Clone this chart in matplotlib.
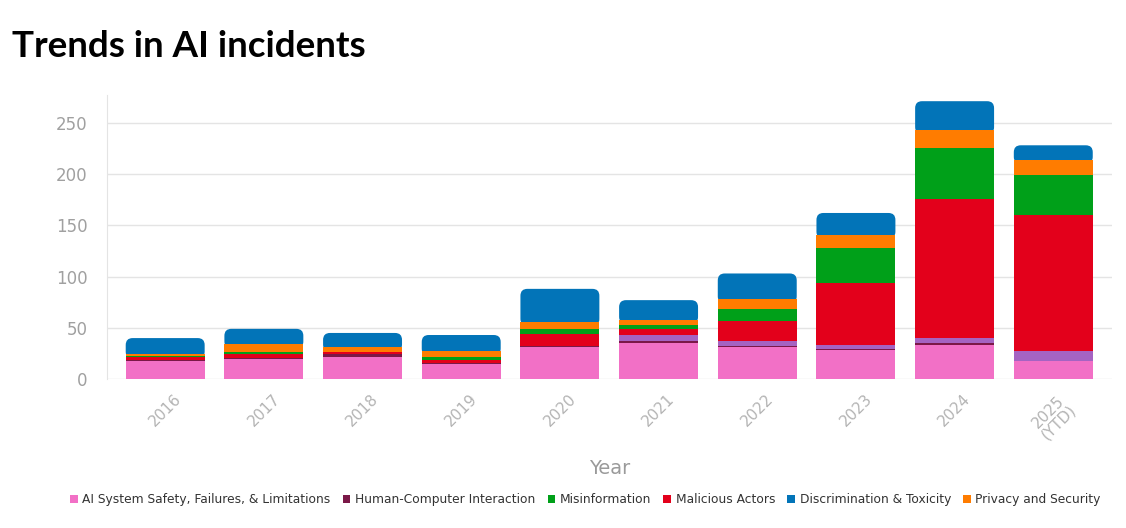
import matplotlib
matplotlib.use("Agg")
import matplotlib.pyplot as plt
from matplotlib.patches import FancyBboxPatch, Patch
from matplotlib import font_manager
import numpy as np

years = ["2016", "2017", "2018", "2019", "2020", "2021", "2022", "2023", "2024", "2025\n(YTD)"]

safety = [18, 20, 22, 15, 31, 35, 31, 28, 33, 18]
hci = [1, 1, 2, 1, 1, 2, 1, 1, 2, 0]
socio = [0, 0, 0, 0, 0, 6, 5, 4, 5, 9]
malicious = [3, 3, 2, 3, 12, 6, 20, 61, 136, 133]
misinfo = [1, 2, 0, 3, 5, 4, 11, 34, 49, 39]
privacy = [1, 8, 5, 5, 7, 5, 10, 13, 18, 15]
discrim = [16, 15, 14, 16, 32, 19, 25, 21, 28, 14]

series = [
    ("AI System Safety, Failures, & Limitations", safety, "#f270c6"),
    ("Human-Computer Interaction", hci, "#7b1848"),
    (None, socio, "#a563c2"),
    ("Malicious Actors", malicious, "#e3001b"),
    ("Misinformation", misinfo, "#00a019"),
    ("Privacy and Security", privacy, "#ff7c00"),
    ("Discrimination & Toxicity", discrim, "#0274b8"),
]
legend_order = [
    "AI System Safety, Failures, & Limitations",
    "Human-Computer Interaction",
    "Misinformation",
    "Malicious Actors",
    "Discrimination & Toxicity",
    "Privacy and Security",
]

available = {f.name for f in font_manager.fontManager.ttflist}
narrow = "Liberation Sans Narrow" if "Liberation Sans Narrow" in available else None

fig = plt.figure(figsize=(11.26, 5.28), dpi=100)
ax = fig.add_axes([0.095, 0.282, 0.893, 0.538])

x = np.arange(len(years))
w = 0.8
bottom = np.zeros(len(years))
colors = {}
for i, (name, vals, col) in enumerate(series):
    vals = np.array(vals, dtype=float)
    if name is not None:
        colors[name] = col
    if i == len(series) - 1:
        bars = ax.bar(x, vals, w, bottom=bottom, color=col, zorder=2, linewidth=0)
        for b in bars:
            b.set_visible(False)
            bx, by = b.get_x(), b.get_y()
            bw, bh = b.get_width(), b.get_height()
            p = FancyBboxPatch((bx, by - 4), bw, bh + 4,
                               boxstyle="round,pad=0,rounding_size=0.07",
                               mutation_aspect=96, facecolor=col,
                               edgecolor="none", zorder=1.5)
            ax.add_patch(p)
    else:
        ax.bar(x, vals, w, bottom=bottom, color=col, zorder=2, linewidth=0)
    bottom += vals

ax.set_xlim(-0.59, 9.6)
ax.set_ylim(0, 277)
ax.set_yticks([0, 50, 100, 150, 200, 250])
ax.grid(axis="y", color="#e4e4e4", linewidth=1, zorder=0)
ax.set_axisbelow(True)
for s in ["top", "right", "bottom"]:
    ax.spines[s].set_visible(False)
ax.spines["left"].set_color("#e4e4e4")
ax.tick_params(axis="y", length=0, pad=14, labelsize=12, labelcolor="#a0a0a0")
ax.tick_params(axis="x", length=0, pad=9, labelsize=11, labelcolor="#b4b4b4")
ax.set_xticks(x)
ax.set_xticklabels(years, rotation=45, ha="center", va="top", rotation_mode="default",
                   linespacing=1.0)
ax.set_xlabel("Year", fontsize=14, color="#9a9a9a", labelpad=12)

fig.text(0.011, 0.912, "Trends in AI incidents", fontsize=26.5, fontweight="bold",
         family=["Lato", "DejaVu Sans"], color="#000000", va="center", ha="left")

handles = [Patch(facecolor=colors[n], edgecolor="none", label=n) for n in legend_order]
lprops = {"size": 10.5}
if narrow:
    lprops["family"] = narrow
else:
    lprops["size"] = 8.8
leg = fig.legend(handles=handles, loc="center", bbox_to_anchor=(0.52, 0.054), ncol=6,
                 frameon=False, prop=lprops, handlelength=0.6, handleheight=0.6,
                 handletextpad=0.4, columnspacing=1.0, labelcolor="#333333")

fig.savefig("out.png", dpi=100)
